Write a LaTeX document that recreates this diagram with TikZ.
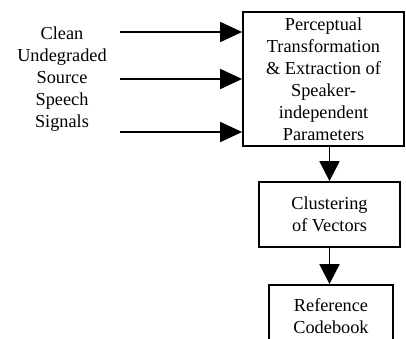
\documentclass[tikz,border=0pt]{standalone}
\usepackage{fontspec}
\setmainfont{Liberation Serif}
\usetikzlibrary{arrows.meta}
\begin{document}
\begin{tikzpicture}[x=1pt,y=-1pt,
  every node/.style={font=\fontsize{18.3}{22}\selectfont, align=center, inner sep=0pt},
  blockbox/.style={draw, line width=1.8pt, rectangle},
  arr/.style={line width=1.8pt, -{Triangle[length=22pt,width=20pt]}},
  darr/.style={line width=1.8pt, -{Triangle[length=20pt,width=20pt]}}]
\useasboundingbox (0,0) rectangle (406,338);
\clip (0,0) rectangle (406,338);
\node (src) at (62,79) {Clean\\Undegraded\\Source\\Speech\\Signals};
\node[blockbox, minimum width=161pt, minimum height=134pt] (pte) at (323.5,79)
  {Perceptual\\Transformation\\\& Extraction of\\Speaker-\\independent\\Parameters};
\node[blockbox, minimum width=141pt, minimum height=65pt] (clu) at (329.5,214.5)
  {Clustering\\of Vectors};
\node[blockbox, minimum width=124pt, minimum height=62pt] (ref) at (331,316)
  {Reference\\Codebook};
\coordinate (in1) at (120,32);
\coordinate (in2) at (120,79);
\coordinate (in3) at (120,132);
\draw[arr] (in1) -- (pte.west |- in1);
\draw[arr] (in2) -- (pte.west |- in2);
\draw[arr] (in3) -- (pte.west |- in3);
\draw[darr] (pte.south -| clu.north) -- (clu.north);
\draw[darr] (clu.south) -- (clu.south |- ref.north);
\end{tikzpicture}
\end{document}
